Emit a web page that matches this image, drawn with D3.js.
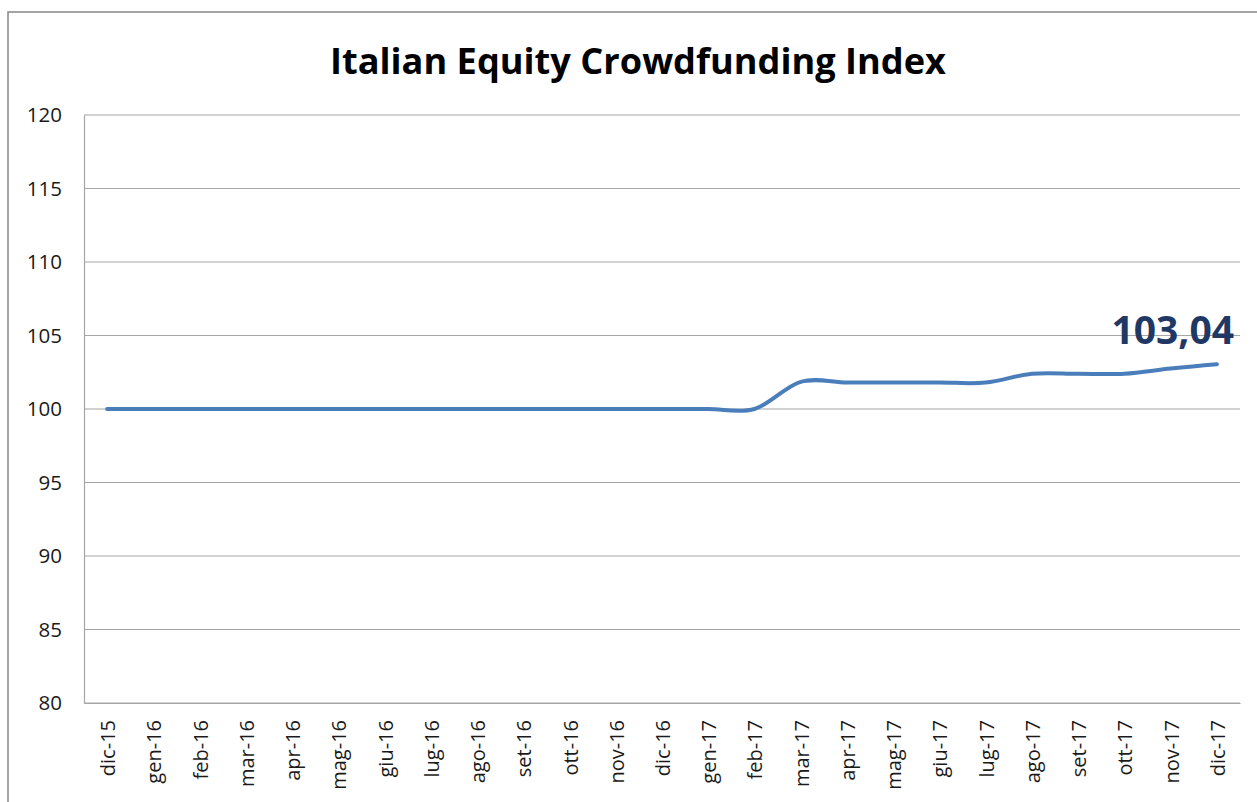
<!DOCTYPE html>
<html><head><meta charset="utf-8">
<script src="https://cdn.jsdelivr.net/npm/d3@7"></script>
<style>body{margin:0;background:#fff;}svg{display:block;}</style>
</head><body>
<script>
const months = ["dic-15","gen-16","feb-16","mar-16","apr-16","mag-16","giu-16","lug-16","ago-16","set-16","ott-16","nov-16","dic-16","gen-17","feb-17","mar-17","apr-17","mag-17","giu-17","lug-17","ago-17","set-17","ott-17","nov-17","dic-17"];
const indexValues = [100,100,100,100,100,100,100,100,100,100,100,100,100,100,100,101.85,101.8,101.8,101.8,101.8,102.4,102.4,102.4,102.75,103.04];
const yTicks = [80,85,90,95,100,105,110,115,120];
const titleText = "Italian Equity Crowdfunding Index";
const lastLabel = "103,04";

const W = 1257, H = 802;
const svg = d3.select("body").append("svg").attr("width", W).attr("height", H);
const m = {left: 84, right: 1240, top: 115, bottom: 703};

svg.append("rect").attr("x", 8).attr("y", 12).attr("width", 1260).attr("height", 820)
  .attr("fill", "none").attr("stroke", "#868686").attr("stroke-width", 1.5);

const x = d3.scaleBand().domain(months).range([m.left, m.right]);
const y = d3.scaleLinear().domain([80,120]).range([m.bottom, m.top]);

const font = "'Open Sans', 'Noto Sans', sans-serif";

// gridlines
svg.append("g").selectAll("line").data(yTicks).join("line")
  .attr("x1", m.left).attr("x2", m.right)
  .attr("y1", d => y(d)).attr("y2", d => y(d))
  .attr("stroke", "#a6a6a6").attr("stroke-width", 1.2);

// y axis
const yAxis = svg.append("g").attr("transform", `translate(${m.left},0)`)
  .call(d3.axisLeft(y).tickValues(yTicks).tickSize(0).tickPadding(22));
yAxis.select(".domain").attr("stroke", "#a6a6a6").attr("stroke-width", 1.2);
yAxis.selectAll("text").style("font-family", font).style("font-size", "20.5px").attr("fill", "#1a1a1a");

// x axis
const xAxis = svg.append("g").attr("transform", `translate(0,${m.bottom})`)
  .call(d3.axisBottom(x).tickSize(0).tickPadding(0));
xAxis.select(".domain").attr("stroke", "#a6a6a6").attr("stroke-width", 1.2);
xAxis.selectAll("text")
  .style("font-family", font).style("font-size", "20px").attr("fill", "#1a1a1a")
  .attr("text-anchor", "end").attr("dy", "0.35em")
  .attr("transform", "translate(1,17) rotate(-90)").attr("x", 0).attr("y", 0);

// line
const line = d3.line()
  .x((d,i) => x(months[i]) + x.bandwidth()/2)
  .y(d => y(d))
  .curve(d3.curveCardinal.tension(0));
svg.append("path").datum(indexValues).attr("d", line)
  .attr("fill", "none").attr("stroke", "#4a7ebb").attr("stroke-width", 4)
  .attr("stroke-linecap", "round");

// label
svg.append("text").attr("x", 1234).attr("y", 344).attr("text-anchor", "end")
  .style("font-family", font).style("font-weight", "bold").style("font-size", "39px")
  .attr("fill", "#1f3864").text(lastLabel);

// title
svg.append("text").attr("x", 638).attr("y", 74).attr("text-anchor", "middle")
  .style("font-family", font).style("font-weight", "bold").style("font-size", "35px")
  .attr("fill", "#000").attr("textLength", 616).attr("lengthAdjust", "spacingAndGlyphs")
  .text(titleText);
</script>
</body></html>
